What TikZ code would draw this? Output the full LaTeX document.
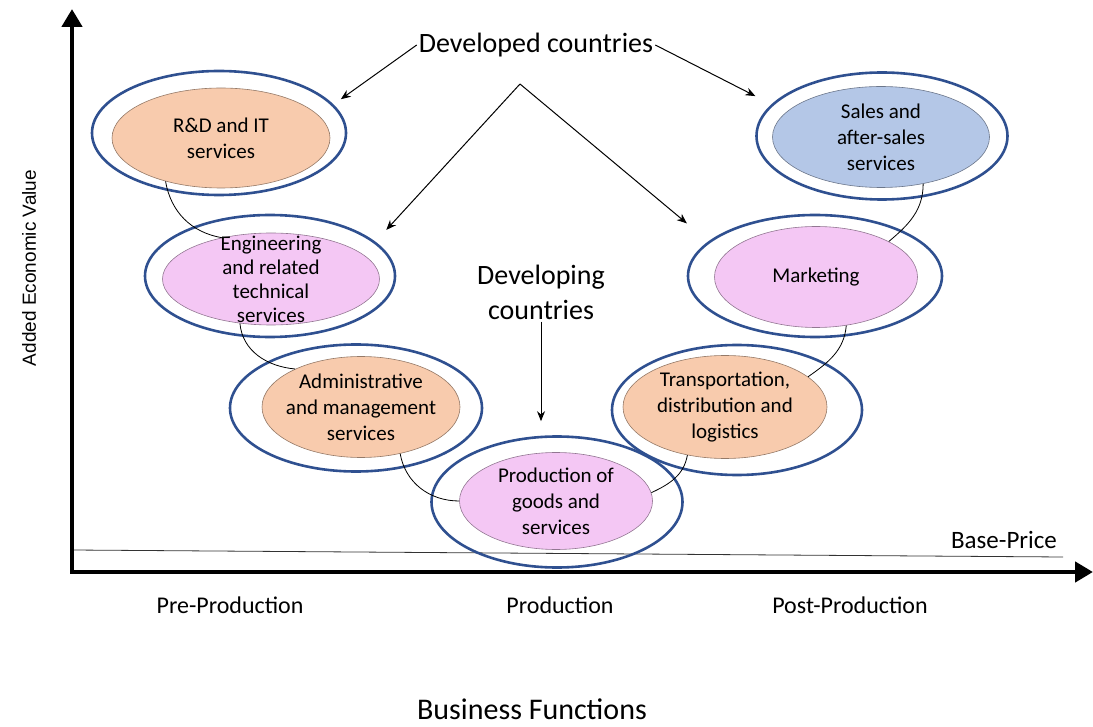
\documentclass[tikz,border=0pt]{standalone}
\usepackage{fontspec}
\setmainfont{Carlito}
\newfontfamily\arialfont{Liberation Sans}
\usetikzlibrary{shapes.geometric, arrows.meta, positioning}

\definecolor{ringblue}{HTML}{2F5090}
\definecolor{orangefill}{HTML}{F8CBAD}
\definecolor{pinkfill}{HTML}{F4C7F4}
\definecolor{bluefill}{HTML}{B4C7E7}

\tikzset{
    ring/.style={ellipse, draw=ringblue, line width=2.6pt},
    core/.style={ellipse, draw=#1!60!black, line width=0.6pt, fill=#1},
    inlabel/.style={align=center, inner sep=0pt, font=\fontsize{21}{26}\selectfont},
    biglabel/.style={align=center, inner sep=2pt, font=\fontsize{28}{35}\selectfont},
    funlabel/.style={inner sep=2pt, font=\fontsize{24}{29}\selectfont},
    axis/.style={line width=4.5pt, line cap=rect, -{Triangle[length=18pt, width=20pt]}},
    link/.style={line width=0.8pt},
    pointer/.style={line width=1pt, -{Stealth[length=10pt, width=8pt]}}
}

\begin{document}
\begin{tikzpicture}[x=1pt, y=-1pt]
\useasboundingbox (0,0) rectangle (1093,727);

\coordinate (o) at (72,572);
\coordinate (ytop) at (72,9);
\coordinate (xend) at (1093,572);
\coordinate (bpl) at (72,550);
\coordinate (bpr) at (1063,557);

\draw [line width=0.8pt, black!80] (bpl) -- (bpr);

\node (rdo)  [ring, minimum width=254pt, minimum height=124pt] at (219,133) {};
\node (rd)   [core=orangefill, minimum width=218pt, minimum height=100pt] at (221,138) {};
\node (rdt)  [inlabel] at (rd) {R\&D and IT\\services};

\node (engo) [ring, minimum width=250pt, minimum height=122pt] at (270,276) {};
\node (eng)  [core=pinkfill, minimum width=217pt, minimum height=92pt] at (271,279) {};
\node (engt) [inlabel, font=\fontsize{21}{24}\selectfont] at (eng) {Engineering\\and related\\technical\\services};

\node (admo) [ring, minimum width=252pt, minimum height=127pt] at (356,408) {};
\node (adm)  [core=orangefill, minimum width=198pt, minimum height=101pt] at (361,407) {};
\node (admt) [inlabel] at (adm) {Administrative\\and management\\services};

\node (prodo)[ring, minimum width=251pt, minimum height=131pt] at (557,502) {};
\node (prod) [core=pinkfill, minimum width=193pt, minimum height=97pt] at (556,501) {};
\node (prodt)[inlabel] at (prod) {Production of\\goods and\\services};

\node (trno) [ring, minimum width=250pt, minimum height=130pt] at (737,410) {};
\node (trn)  [core=orangefill, minimum width=204pt, minimum height=103pt] at (725,407) {};
\node (trnt) [inlabel] at (trn) {Transportation,\\distribution and\\logistics};

\node (mkto) [ring, minimum width=254pt, minimum height=122pt] at (815,276) {};
\node (mkt)  [core=pinkfill, minimum width=203pt, minimum height=101pt] at (816,277) {};
\node (mktt) [inlabel] at (mkt) {Marketing};

\node (salo) [ring, minimum width=251pt, minimum height=127pt] at (882,136) {};
\node (sal)  [core=bluefill, minimum width=217pt, minimum height=101pt] at (881,137) {};
\node (salt) [inlabel] at (sal) {Sales and\\after-sales\\services};

\draw [link] (rd.-142) to[out=-80, in=170] (eng.140);
\draw [link] (eng.-125) to[out=-85, in=175] (adm.150);
\draw [link] (adm.-50) to[out=-80, in=180] (prod.west);
\draw [link] (prod.5) to[out=25, in=-100] (trn.-128);
\draw [link] (trn.20) to[out=35, in=-95] (mkt.-58);
\draw [link] (mkt.26) to[out=40, in=-90] (sal.-48);

\node (dev)  [biglabel] at (536,45) {Developed countries};
\node (devg) [biglabel] at (541,292) {Developing\\countries};
\coordinate (apex) at (520,84);

\draw [pointer, shorten >=9pt] (dev.west) -- (rdo.14);
\draw [pointer, shorten >=18pt] (dev.east) -- (salo.164);
\draw [pointer, shorten >=16pt] (apex) -- (engo.18);
\draw [pointer, shorten >=28pt] (apex) -- (mkto.162);
\draw [pointer, shorten >=14pt] (devg.south) -- (devg.south |- prodo.north);

\draw [axis] (o) -- (ytop);
\draw [axis] (o) -- (xend);

\node (bp)   [funlabel, font=\fontsize{25}{30}\selectfont] at (1004,540) {Base-Price};
\node (pre)  [funlabel] at (230,605) {Pre-Production};
\node (pro)  [funlabel] at (560,605) {Production};
\node (post) [funlabel] at (850,605) {Post-Production};
\node (bf)   [funlabel, inner sep=0pt, font=\fontsize{30}{36}\selectfont] at (532,709) {Business Functions};
\node (aev)  [rotate=90, font=\arialfont\fontsize{19}{23}\selectfont] at (29,268) {Added Economic Value};

\end{tikzpicture}
\end{document}
